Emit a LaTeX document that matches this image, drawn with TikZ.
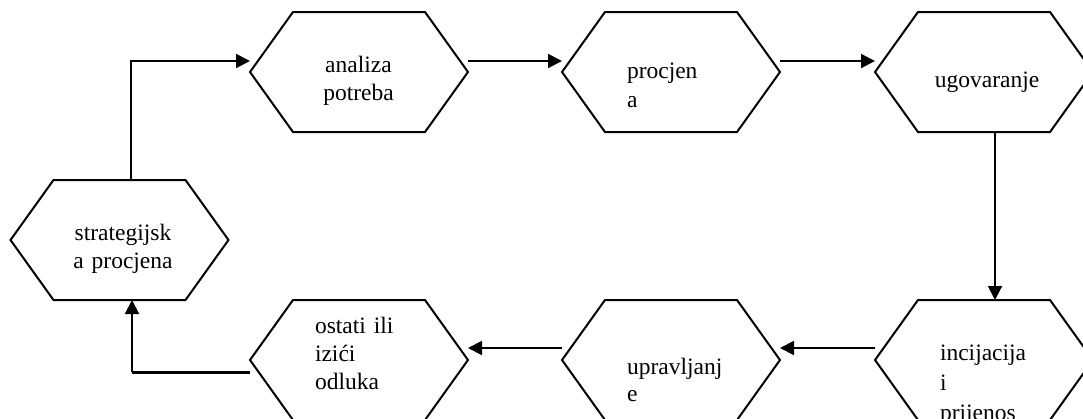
\documentclass[tikz,border=0pt]{standalone}
\usepackage{fontspec}
\setmainfont{Liberation Serif}
\usetikzlibrary{arrows.meta}
\begin{document}
\begin{tikzpicture}[x=1pt,y=-1pt,
  hexnode/.style={minimum width=218pt,minimum height=120pt,inner sep=0pt,outer sep=0pt},
  hexline/.style={line width=2pt,line join=miter},
  lbl/.style={font=\fontsize{23.5}{28}\selectfont,inner sep=0pt,outer sep=0pt,text width=120pt},
  conn/.style={line width=2pt,-{Triangle[length=14pt,width=14pt]}},
]
\useasboundingbox (0,0) rectangle (1083,418);
% hexagon nodes
\node[hexnode] (sp) at (119.5,240) {};
\node[hexnode] (ap) at (359,72) {};
\node[hexnode] (pr) at (671,72) {};
\node[hexnode] (ug) at (984,72) {};
\node[hexnode] (in) at (984,360) {};
\node[hexnode] (up) at (671,360) {};
\node[hexnode] (oi) at (359,360) {};
\foreach \n in {sp,ap,pr,ug,in,up,oi}
  \draw[hexline] (\n.west) -- ([xshift=43pt]\n.north west) -- ([xshift=-43pt]\n.north east)
    -- (\n.east) -- ([xshift=-43pt]\n.south east) -- ([xshift=43pt]\n.south west) -- cycle;
% labels
\node[lbl,anchor=base,align=center] (tsp) at (123,240) {strategijsk\\a procjena};
\node[lbl,anchor=base,align=center] (tap) at (358.5,72.5) {analiza\\potreba};
\node[lbl,anchor=base west,align=left,font=\fontsize{23.5}{29}\selectfont] (tpr) at (627,78) {procjen\\a};
\node[lbl,anchor=base,align=center] (tug) at (987,87) {ugovaranje};
\node[lbl,anchor=base west,align=left,font=\fontsize{23.5}{30}\selectfont] (tin) at (940,360) {incijacija\\i\\prijenos};
\node[lbl,anchor=base west,align=left,font=\fontsize{23.5}{27}\selectfont] (tup) at (627,374) {upravljanj\\e};
\node[lbl,anchor=base west,align=left] (toi) at (315,333) {ostati ili\\izići\\odluka};
% connectors
\coordinate (c1) at (131,61);
\coordinate (c2) at (132,372);
\draw[conn] (sp.north -| c1) -- (c1) -- (c1 -| ap.west);
\draw[conn] (ap.east |- c1) -- (pr.west |- c1);
\draw[conn] (pr.east |- c1) -- (ug.west |- c1);
\coordinate (c3) at (995,348);
\draw[conn] (ug.south -| c3) -- (in.north -| c3);
\draw[conn] (in.west |- c3) -- (up.east |- c3);
\draw[conn] (up.west |- c3) -- (oi.east |- c3);
\draw[line width=3pt] (oi.west |- c2) -- (c2);
\draw[conn] (c2) -- (sp.south -| c2);
\end{tikzpicture}
\end{document}
